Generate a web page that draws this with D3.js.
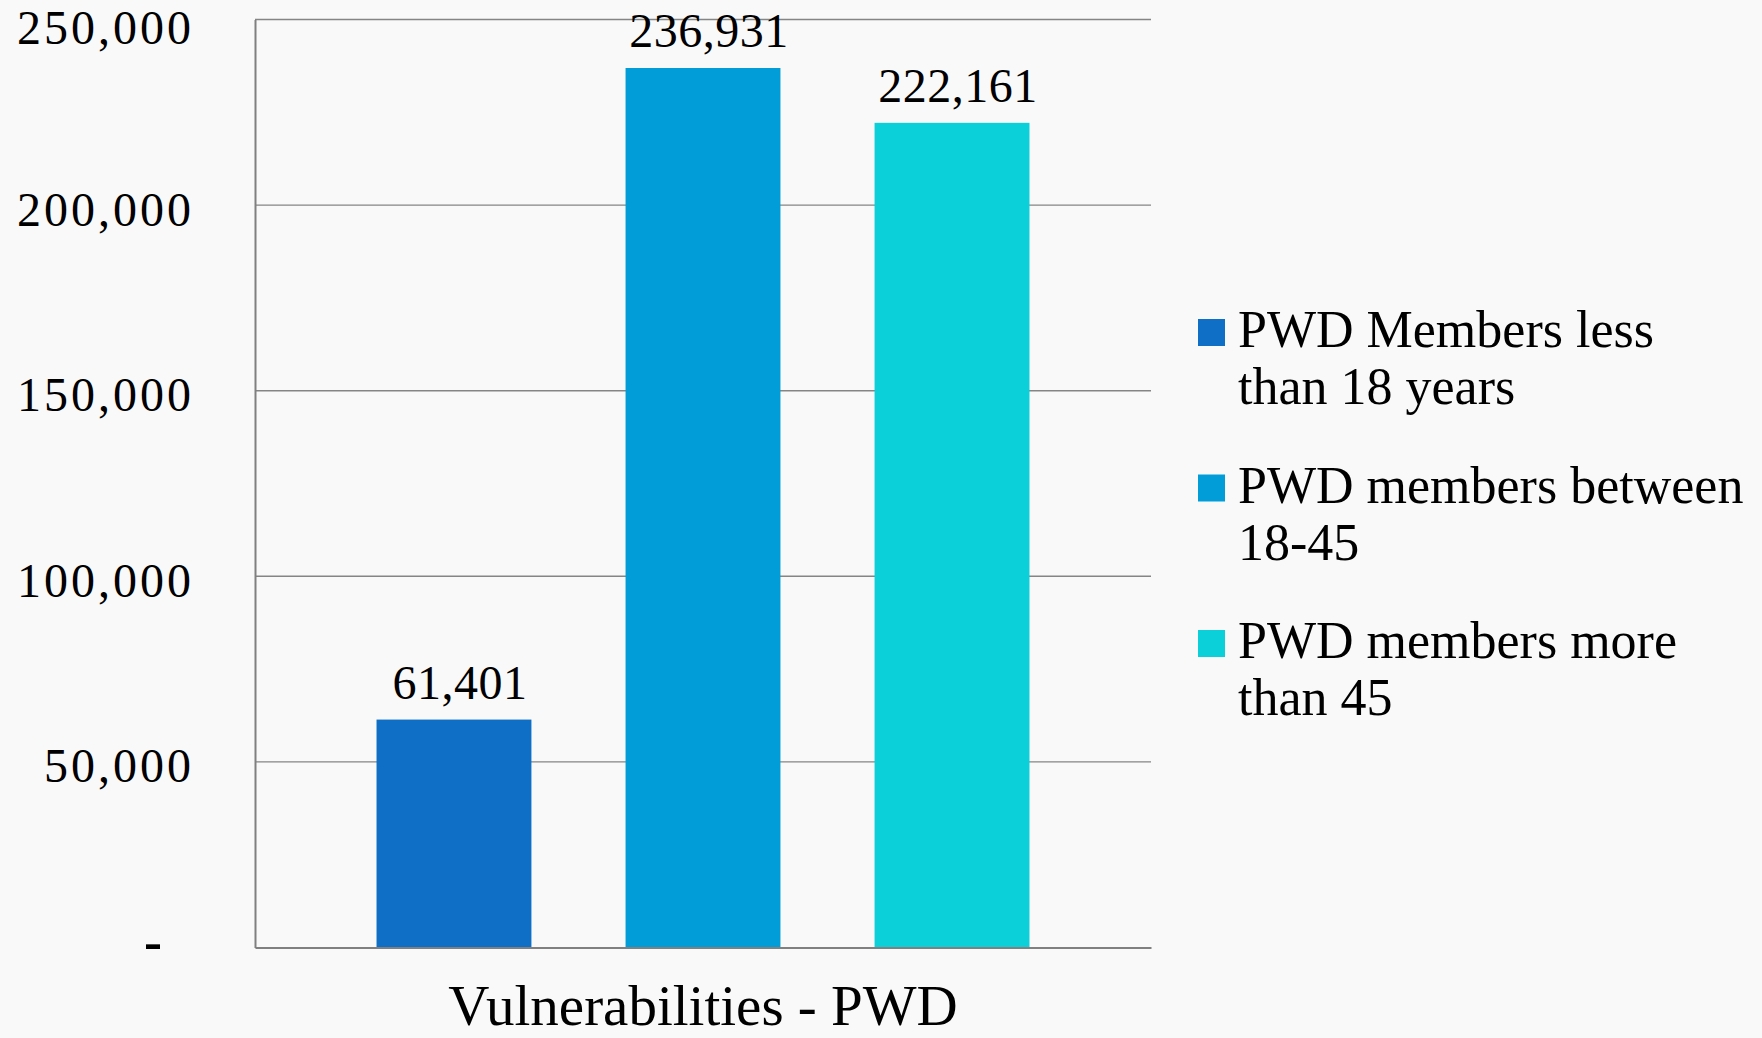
<!DOCTYPE html>
<html>
<head>
<meta charset="utf-8">
<script src="https://cdn.jsdelivr.net/npm/d3@7"></script>
<style>
  html, body { margin: 0; padding: 0; background: #f9f9f9; }
  svg { display: block; font-family: "Liberation Serif", "Times New Roman", serif; }
</style>
</head>
<body>
<svg id="chart" width="1762" height="1038"></svg>
<script>
// ---- data ----
const categoryTitle = "Vulnerabilities - PWD";
const seriesNames = [
  "PWD Members less than 18 years",
  "PWD members between 18-45",
  "PWD members more than 45"
];
const seriesValues = [61401, 236931, 222161];
const seriesColors = ["#0F6FC6", "#009DD9", "#0BD0D9"];
const legendLines = [
  ["PWD Members less", "than 18 years"],
  ["PWD members between", "18-45"],
  ["PWD members more", "than 45"]
];
const yTickValues = [0, 50000, 100000, 150000, 200000, 250000];
const yTickLabels = ["-", "50,000", "100,000", "150,000", "200,000", "250,000"];

// ---- layout ----
const svg = d3.select("#chart");
const plot = { left: 255, right: 1151, top: 19.5, bottom: 947.5 };

const y = d3.scaleLinear().domain([0, 250000]).range([plot.bottom, plot.top]);
const x = d3.scaleBand().domain(seriesNames).range([plot.left, plot.right])
  .paddingInner(0.378).paddingOuter(0.488);

// gridlines
svg.append("g").selectAll("line")
  .data(yTickValues.filter(v => v > 0))
  .join("line")
  .attr("x1", plot.left).attr("x2", plot.right)
  .attr("y1", d => y(d)).attr("y2", d => y(d))
  .attr("stroke", "#858585").attr("stroke-width", 1.4);

// bars
svg.append("g").selectAll("rect")
  .data(seriesNames)
  .join("rect")
  .attr("x", d => x(d))
  .attr("width", x.bandwidth())
  .attr("y", (d, i) => y(seriesValues[i]))
  .attr("height", (d, i) => plot.bottom - y(seriesValues[i]))
  .attr("fill", (d, i) => seriesColors[i]);

// axes
const yAxis = d3.axisLeft(y).tickValues(yTickValues)
  .tickFormat((d, i) => yTickLabels[i]).tickSize(0).tickPadding(0);
const gy = svg.append("g").attr("transform", `translate(${plot.left},0)`).call(yAxis);
gy.select(".domain").attr("stroke", "#808080").attr("stroke-width", 2);
gy.selectAll("text")
  .attr("x", -61)
  .attr("dy", null)
  .attr("y", d => d === 250000 ? 24 : 20)
  .attr("font-size", 48)
  .attr("letter-spacing", "3px")
  .attr("fill", "#000")
  .style("font-family", "'Liberation Serif', serif");
gy.selectAll(".tick").filter(d => d === 0).select("text")
  .attr("x", -90).attr("y", 12).attr("font-size", 54).attr("font-weight", "bold");

const xAxis = d3.axisBottom(x).tickSize(0).tickFormat("");
const gx = svg.append("g").attr("transform", `translate(0,${plot.bottom})`).call(xAxis);
gx.select(".domain").attr("stroke", "#808080").attr("stroke-width", 2);

// data labels
svg.append("g").selectAll("text")
  .data(seriesNames)
  .join("text")
  .attr("x", d => x(d) + x.bandwidth() / 2 + 6)
  .attr("y", (d, i) => y(seriesValues[i]) - 21)
  .attr("text-anchor", "middle")
  .attr("font-size", 48)
  .attr("letter-spacing", "0.5px")
  .attr("fill", "#000")
  .text((d, i) => d3.format(",")(seriesValues[i]));

// category title
svg.append("text")
  .attr("x", (plot.left + plot.right) / 2)
  .attr("y", 1025)
  .attr("text-anchor", "middle")
  .attr("font-size", 57)
  .attr("fill", "#000")
  .text(categoryTitle);

// legend
const legend = svg.append("g");
const items = legend.selectAll("g")
  .data(seriesNames)
  .join("g")
  .attr("transform", (d, i) => `translate(1198,${347 + 155.5 * i})`);
items.append("rect")
  .attr("x", 0).attr("y", -28).attr("width", 27).attr("height", 27)
  .attr("fill", (d, i) => seriesColors[i]);
items.append("text")
  .attr("x", 40).attr("y", 0)
  .attr("font-size", 52)
  .attr("fill", "#000")
  .selectAll("tspan")
  .data((d, i) => legendLines[i])
  .join("tspan")
  .attr("x", 40)
  .attr("dy", (d, j) => j === 0 ? 0 : 57)
  .text(d => d);
</script>
</body>
</html>
